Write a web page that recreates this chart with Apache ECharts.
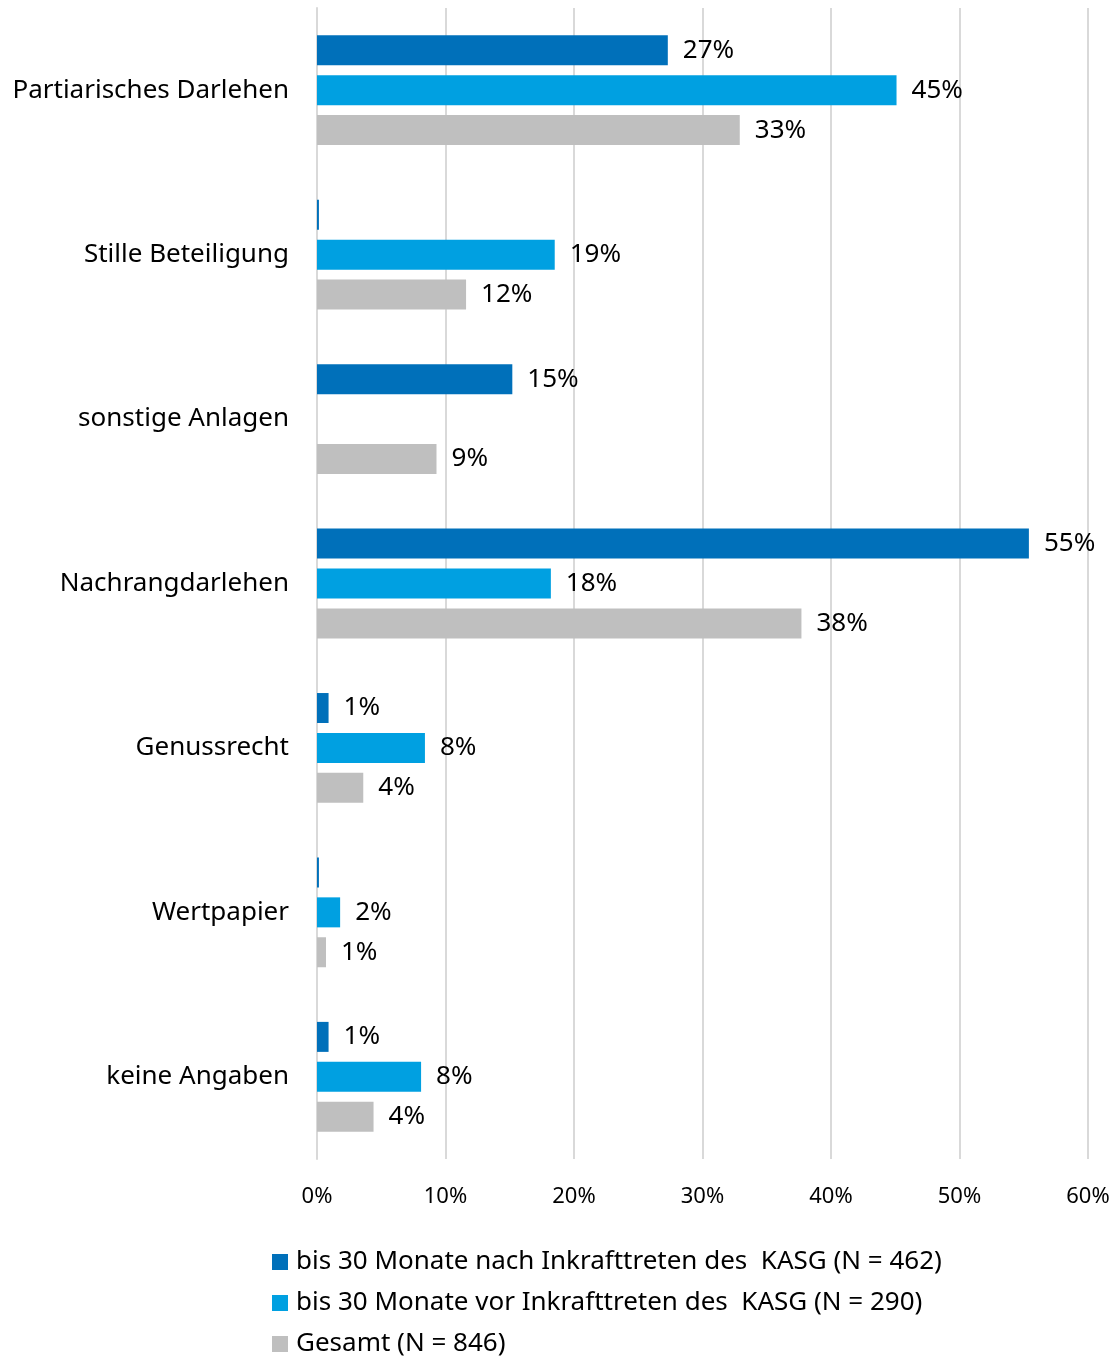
<!DOCTYPE html>
<html>
<head>
<meta charset="utf-8">
<script src="https://cdn.jsdelivr.net/npm/echarts@6/dist/echarts.min.js"></script>
<style>
html,body{margin:0;padding:0;background:#fff;}
#chart{width:1118px;height:1357px;}
</style>
</head>
<body>
<div id="chart"></div>
<script>
var categories = ['Partiarisches Darlehen', 'Stille Beteiligung', 'sonstige Anlagen', 'Nachrangdarlehen', 'Genussrecht', 'Wertpapier', 'keine Angaben'];
var seriesNames = ['bis 30 Monate nach Inkrafttreten des  KASG (N = 462)', 'bis 30 Monate vor Inkrafttreten des  KASG (N = 290)', 'Gesamt (N = 846)'];
var nachValues = [27.3, 0.15, 15.2, 55.4, 0.9, 0.15, 0.9];
var vorValues = [45.1, 18.5, 0, 18.2, 8.4, 1.8, 8.1];
var gesamtValues = [32.9, 11.6, 9.3, 37.7, 3.6, 0.7, 4.4];
var tickLabels = ['0%', '10%', '20%', '30%', '40%', '50%', '60%'];
var colors = ['#0070BA', '#00A0E1', '#BFBFBF'];

var FONT = 'Noto Sans';

function makeSeries(name, data, color) {
	return {
		name: name,
		type: 'bar',
		data: data,
		barWidth: 30,
		barGap: '33%',
		itemStyle: { color: color },
		label: {
			show: true,
			position: 'right',
			distance: 15,
			fontFamily: FONT,
			fontSize: 26,
			color: '#000',
			formatter: function (p) {
				// winzige Balken ohne Beschriftung
				if (p.value < 0.5) return '';
				return Math.round(p.value) + '%';
			}
		}
	};
}

var myChart = echarts.init(document.getElementById('chart'));
var option = {
	animation: false,
	textStyle: { fontFamily: FONT },
	grid: { left: 317, right: 30, top: 8, bottom: 198, containLabel: false },
	legend: {
		orient: 'vertical',
		left: 272,
		top: 1249,
		height: 200,
		padding: 0,
		itemWidth: 16,
		itemHeight: 16,
		itemGap: 15,
		icon: 'rect',
		textStyle: { fontFamily: FONT, fontSize: 26, color: '#000', padding: [0, 0, 0, 3] },
		data: seriesNames
	},
	xAxis: {
		type: 'value',
		min: 0,
		max: 60,
		interval: 10,
		axisLine: { show: false },
		axisTick: { show: false },
		splitLine: { lineStyle: { color: '#D9D9D9', width: 2 } },
		axisLabel: {
			margin: 27,
			fontFamily: FONT,
			fontSize: 22,
			color: '#000',
			formatter: function (v) { return tickLabels[v / 10]; }
		}
	},
	yAxis: {
		type: 'category',
		inverse: true,
		data: categories,
		axisLine: { show: true, lineStyle: { color: '#D9D9D9', width: 2 } },
		axisTick: { show: false },
		axisLabel: { margin: 28, fontFamily: FONT, fontSize: 26, color: '#000' }
	},
	series: [
		makeSeries(seriesNames[0], nachValues, colors[0]),
		makeSeries(seriesNames[1], vorValues, colors[1]),
		makeSeries(seriesNames[2], gesamtValues, colors[2])
	]
};
myChart.setOption(option);
</script>
</body>
</html>
